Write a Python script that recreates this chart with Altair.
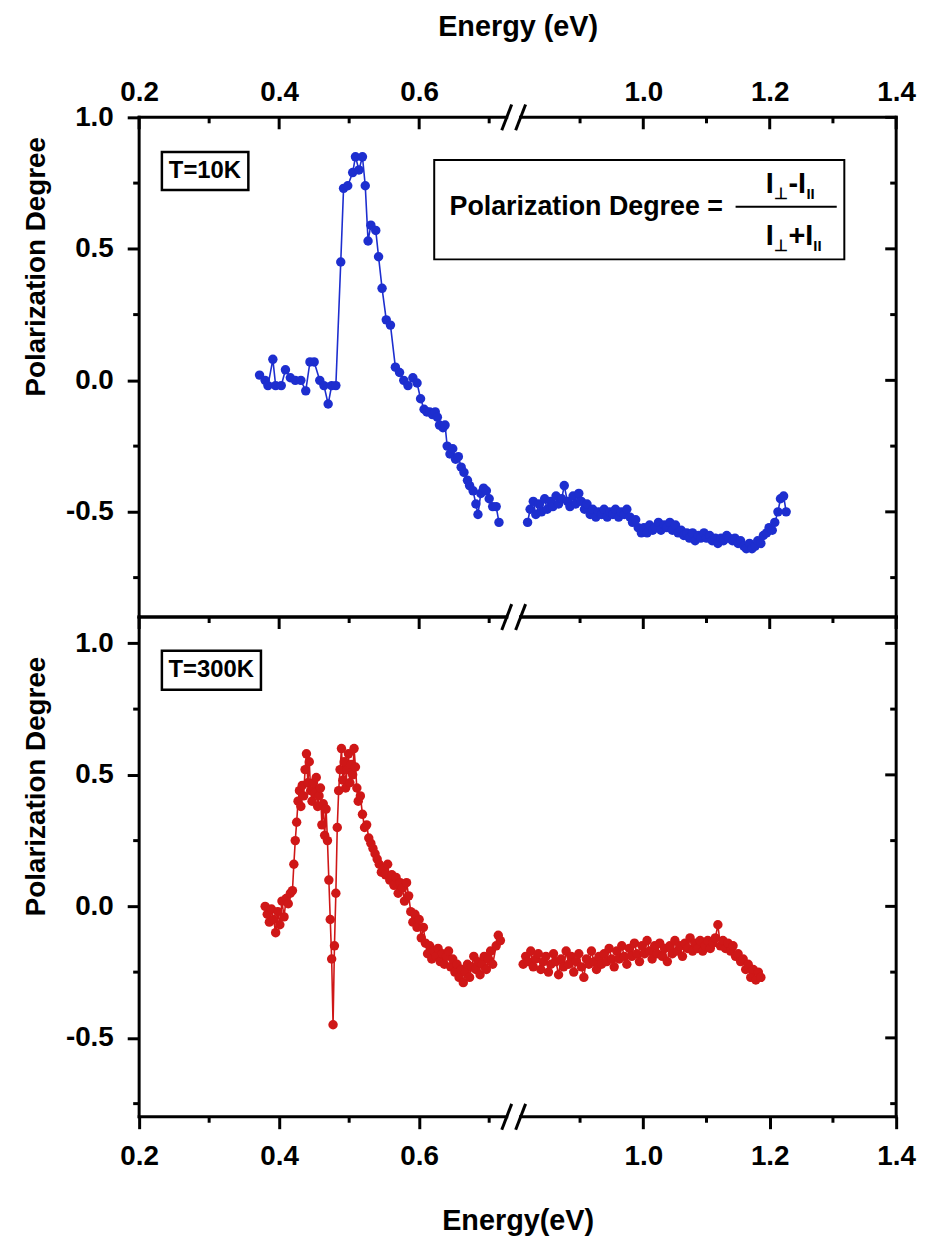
import altair as alt
import pandas as pd

FONT = "Liberation Sans"
BLUE = "#1d2ecf"
RED = "#cf1717"

# ---------------- data ----------------
T10_LEFT_E = [0.372, 0.380, 0.384, 0.391, 0.395, 0.403, 0.409, 0.416, 0.423, 0.431,
              0.438, 0.444, 0.450, 0.458, 0.464, 0.470, 0.475, 0.481, 0.488, 0.492,
              0.498, 0.505, 0.509, 0.514, 0.519, 0.523, 0.527, 0.531, 0.538, 0.542,
              0.547, 0.553, 0.559, 0.566, 0.572, 0.578, 0.584, 0.591, 0.597, 0.602,
              0.607, 0.611, 0.615, 0.619, 0.623, 0.626, 0.629, 0.634, 0.637, 0.640,
              0.644, 0.648, 0.652, 0.656, 0.660, 0.664, 0.669, 0.672, 0.677, 0.681,
              0.684, 0.688, 0.692, 0.696, 0.700, 0.705, 0.710, 0.714]
T10_LEFT_P = [0.02, 0.00, -0.02, 0.08, -0.02, -0.02, 0.04, 0.01, 0.00, 0.00,
              -0.04, 0.07, 0.07, 0.00, -0.02, -0.09, -0.02, -0.02, 0.45, 0.73,
              0.74, 0.79, 0.85, 0.80, 0.85, 0.74, 0.53, 0.59, 0.57, 0.47,
              0.35, 0.23, 0.21, 0.05, 0.03, 0.00, -0.02, 0.01, -0.01, -0.07,
              -0.11, -0.12, -0.12, -0.13, -0.12, -0.14, -0.17, -0.18, -0.17, -0.25,
              -0.28, -0.26, -0.30, -0.29, -0.33, -0.35, -0.38, -0.40, -0.42, -0.47,
              -0.51, -0.43, -0.41, -0.42, -0.45, -0.48, -0.48, -0.54]
T10_RIGHT_E = [0.817, 0.821, 0.826, 0.830, 0.835, 0.839, 0.844, 0.848, 0.853, 0.857,
               0.862, 0.866, 0.871, 0.875, 0.880, 0.884, 0.889, 0.893, 0.898, 0.902,
               0.907, 0.911, 0.916, 0.920, 0.925, 0.929, 0.934, 0.938, 0.943, 0.947,
               0.952, 0.956, 0.961, 0.965, 0.970, 0.974, 0.979, 0.983, 0.988, 0.992,
               0.997, 1.001, 1.006, 1.010, 1.015, 1.019, 1.024, 1.028, 1.033, 1.037,
               1.042, 1.046, 1.051, 1.055, 1.060, 1.064, 1.069, 1.073, 1.078, 1.082,
               1.087, 1.091, 1.096, 1.100, 1.105, 1.109, 1.114, 1.118, 1.123, 1.127,
               1.132, 1.136, 1.141, 1.145, 1.150, 1.154, 1.159, 1.163, 1.168, 1.172,
               1.177, 1.181, 1.186, 1.190, 1.195, 1.199, 1.204, 1.208, 1.213, 1.217,
               1.222, 1.226]
T10_RIGHT_P = [-0.54, -0.49, -0.46, -0.51, -0.47, -0.50, -0.45, -0.49, -0.46, -0.48,
               -0.44, -0.47, -0.45, -0.40, -0.46, -0.48, -0.44, -0.47, -0.43, -0.46,
               -0.49, -0.47, -0.51, -0.49, -0.52, -0.50, -0.51, -0.49, -0.52, -0.50,
               -0.51, -0.49, -0.52, -0.50, -0.51, -0.49, -0.52, -0.54, -0.53, -0.56,
               -0.58, -0.56, -0.58, -0.55, -0.57, -0.56, -0.54, -0.57, -0.55, -0.56,
               -0.54, -0.57, -0.55, -0.58, -0.57, -0.59, -0.58, -0.60, -0.58, -0.61,
               -0.59, -0.60, -0.58, -0.60, -0.59, -0.61, -0.60, -0.62, -0.60, -0.61,
               -0.59, -0.60, -0.61, -0.60, -0.62, -0.61, -0.63, -0.64, -0.62, -0.64,
               -0.63, -0.61, -0.62, -0.59, -0.58, -0.56, -0.57, -0.54, -0.50, -0.45,
               -0.44, -0.50]

T300_LEFT_E = [0.380, 0.383, 0.386, 0.389, 0.392, 0.395, 0.398, 0.401, 0.404, 0.407,
               0.410, 0.413, 0.416, 0.419, 0.421, 0.423, 0.425, 0.427, 0.429, 0.431,
               0.433, 0.435, 0.437, 0.439, 0.441, 0.443, 0.445, 0.447, 0.449, 0.451,
               0.453, 0.455, 0.457, 0.459, 0.461, 0.463, 0.465, 0.467, 0.469, 0.471,
               0.473, 0.475, 0.477, 0.479, 0.481, 0.483, 0.485, 0.487, 0.489, 0.491,
               0.493, 0.495, 0.497, 0.499, 0.501, 0.503, 0.505, 0.507, 0.509, 0.511,
               0.513, 0.516, 0.519, 0.522, 0.525, 0.528, 0.531, 0.534, 0.537, 0.540,
               0.543, 0.546, 0.549, 0.552, 0.555, 0.558, 0.561, 0.564, 0.567, 0.570,
               0.573, 0.576, 0.579, 0.582, 0.585, 0.588, 0.591, 0.594, 0.597, 0.600,
               0.603, 0.606, 0.609, 0.612, 0.615, 0.618, 0.621, 0.624, 0.627, 0.630,
               0.633, 0.636, 0.639, 0.642, 0.645, 0.648, 0.651, 0.654, 0.657, 0.660,
               0.663, 0.666, 0.669, 0.672, 0.675, 0.678, 0.681, 0.684, 0.687, 0.690,
               0.693, 0.696, 0.699, 0.702, 0.705, 0.710, 0.713, 0.716]
T300_LEFT_P = [0.00, -0.03, -0.06, -0.01, -0.05, -0.10, -0.02, -0.07, 0.02, -0.04,
               0.03, 0.01, 0.05, 0.06, 0.16, 0.25, 0.32, 0.40, 0.44, 0.38,
               0.46, 0.42, 0.52, 0.58, 0.47, 0.55, 0.44, 0.40, 0.47, 0.43,
               0.49, 0.38, 0.42, 0.45, 0.31, 0.39, 0.27, 0.37, 0.25, 0.10,
               -0.05, -0.20, -0.45, -0.15, 0.05, 0.30, 0.44, 0.52, 0.60, 0.48,
               0.55, 0.45, 0.52, 0.58, 0.47, 0.54, 0.50, 0.60, 0.53, 0.45,
               0.40, 0.42, 0.35, 0.30, 0.31, 0.26, 0.24, 0.22, 0.20, 0.18,
               0.16, 0.13, 0.14, 0.12, 0.16, 0.10, 0.12, 0.08, 0.11, 0.05,
               0.09, 0.07, 0.02, 0.09, 0.04, -0.02, -0.06, -0.03, -0.08, -0.05,
               -0.12, -0.08, -0.14, -0.18, -0.15, -0.20, -0.17, -0.19, -0.16, -0.21,
               -0.18, -0.22, -0.19, -0.17, -0.23, -0.20, -0.25, -0.22, -0.27, -0.24,
               -0.29, -0.25, -0.22, -0.27, -0.23, -0.19, -0.24, -0.21, -0.26, -0.22,
               -0.19, -0.24, -0.20, -0.17, -0.22, -0.15, -0.11, -0.13]
T300_RIGHT_E = [0.810, 0.814, 0.818, 0.822, 0.826, 0.830, 0.834, 0.838, 0.842, 0.846,
                0.850, 0.854, 0.858, 0.862, 0.866, 0.870, 0.874, 0.878, 0.882, 0.886,
                0.890, 0.894, 0.898, 0.902, 0.906, 0.910, 0.914, 0.918, 0.922, 0.926,
                0.930, 0.934, 0.938, 0.942, 0.946, 0.950, 0.954, 0.958, 0.962, 0.966,
                0.970, 0.974, 0.978, 0.982, 0.986, 0.990, 0.994, 0.998, 1.002, 1.006,
                1.010, 1.014, 1.018, 1.022, 1.026, 1.030, 1.034, 1.038, 1.042, 1.046,
                1.050, 1.054, 1.058, 1.062, 1.066, 1.070, 1.074, 1.078, 1.082, 1.086,
                1.090, 1.094, 1.098, 1.102, 1.106, 1.110, 1.114, 1.118, 1.122, 1.126,
                1.130, 1.134, 1.138, 1.142, 1.146, 1.150, 1.154, 1.158, 1.162, 1.166,
                1.170, 1.174, 1.178, 1.182, 1.186]
T300_RIGHT_P = [-0.22, -0.19, -0.21, -0.17, -0.23, -0.20, -0.18, -0.24, -0.21, -0.19,
                -0.25, -0.22, -0.18, -0.21, -0.26, -0.20, -0.23, -0.17, -0.22, -0.19,
                -0.25, -0.21, -0.18, -0.23, -0.27, -0.20, -0.22, -0.17, -0.21, -0.24,
                -0.19, -0.22, -0.18, -0.21, -0.16, -0.20, -0.23, -0.17, -0.20, -0.15,
                -0.19, -0.22, -0.16, -0.19, -0.14, -0.18, -0.21, -0.15, -0.18, -0.13,
                -0.17, -0.20, -0.15, -0.18, -0.14, -0.19, -0.16, -0.21, -0.15, -0.18,
                -0.13, -0.17, -0.15, -0.19, -0.14, -0.16, -0.12, -0.17, -0.14, -0.16,
                -0.13, -0.17, -0.15, -0.13, -0.16, -0.14, -0.12, -0.07, -0.15, -0.13,
                -0.16, -0.14, -0.17, -0.15, -0.19, -0.18, -0.21, -0.20, -0.24, -0.22,
                -0.27, -0.24, -0.28, -0.25, -0.27]

# ---------------- axes / ticks ----------------
X_MAJOR = [0.2, 0.4, 0.6, 1.0, 1.2, 1.4]
X_MINOR = [0.3, 0.5, 0.7, 0.9, 1.1, 1.3]
Y_MAJOR = [-0.5, 0.0, 0.5, 1.0]
Y_MINOR = [-0.75, -0.25, 0.25, 0.75]
X_LO, X_HI = 0.2, 1.4
BREAK_LO, BREAK_HI = 0.735, 0.795
TOP_YDOM = [-0.9, 1.0]
BOT_YDOM = [-0.8, 1.1]

# annotation anchors (data units)
TOP_LABEL_BOX = [0.2325, 0.356, 0.724, 0.868]
TOP_LABEL_POS = [0.294, 0.796]
BOT_LABEL_BOX = [0.2325, 0.374, 0.824, 0.972]
BOT_LABEL_POS = [0.303, 0.898]
FORMULA_BOX = [0.6215, 1.318, 0.46, 0.838]
FORMULA_TEXT_POS = [1.126, 0.66]
FRAC_BAR = [1.146, 1.306, 0.66]
NUM_POS = [1.236, 0.745]
DEN_POS = [1.236, 0.547]

W, H = 762, 503
BREAK_PX = 377
ONE = pd.DataFrame({"k": [0]})
YLAB = "datum.value < 0 ? '-' + format(-datum.value, '.1f') : format(datum.value, '.1f')"


def series_df(le, lp, re, rp):
    return pd.DataFrame({
        "E": list(le) + list(re),
        "P": list(lp) + list(rp),
        "seg": ["left"] * len(le) + ["right"] * len(re),
    })


def xd(v):
    return alt.XDatum(v, axis=None)


def yd(v):
    return alt.YDatum(v, axis=None)


def panel(df, color, ydom, top_labels, break_ys, label_text, label_box, label_pos, formula,
          title_y):
    ymin, ymax = ydom
    xs = alt.Scale(domain=[X_LO, BREAK_LO, BREAK_HI, X_HI], range=[0, BREAK_PX, BREAK_PX, W],
                   nice=False, zero=False)
    ys = alt.Scale(domain=ydom, nice=False, zero=False)
    if top_labels:
        xaxis = alt.Axis(orient="top", values=X_MAJOR, format=".1f", title="Energy (eV)",
                         ticks=False, domain=False, grid=False, labelFlush=False,
                         labelPadding=11, titlePadding=37)
    else:
        xaxis = alt.Axis(orient="bottom", values=X_MAJOR, format=".1f", title="Energy(eV)",
                         ticks=True, tickSize=12, tickWidth=3, domain=False, grid=False,
                         labelFlush=False, labelPadding=14, titlePadding=36)
    yaxis = alt.Axis(orient="left", values=Y_MAJOR, labelExpr=YLAB, title="Polarization Degree",
                     ticks=True, tickSize=12, tickWidth=3, domain=False, grid=False,
                     labelFlush=False, labelPadding=14, titlePadding=15, titleY=title_y,
                     titleFontSize=28)

    layers = []
    layers.append(alt.Chart(df).mark_line(color=color, strokeWidth=1.6).encode(
        x=alt.X("E:Q", scale=xs, axis=xaxis),
        y=alt.Y("P:Q", scale=ys, axis=yaxis),
        detail="seg:N"))
    layers.append(alt.Chart(df).mark_circle(color=color, size=90, opacity=1).encode(
        x=alt.X("E:Q", axis=None), y=alt.Y("P:Q", axis=None)))

    def xticks(vals, yv, length):
        return alt.Chart(pd.DataFrame({"t": vals})).mark_rule(
            color="black", strokeWidth=3, y2Offset=length).encode(
            x=alt.X("t:Q", axis=None), y=yd(yv), y2=alt.Y2Datum(yv))

    def yticks(vals, xv, length):
        return alt.Chart(pd.DataFrame({"t": vals})).mark_rule(
            color="black", strokeWidth=3, x2Offset=length).encode(
            y=alt.Y("t:Q", axis=None), x=xd(xv), x2=alt.X2Datum(xv))

    # inward ticks on top border, outward minor on bottom / left, inward on right
    layers.append(xticks(X_MAJOR, ymax, 12))
    layers.append(xticks(X_MINOR, ymax, 6))
    if not top_labels:
        layers.append(xticks(X_MINOR, ymin, 6))
    layers.append(yticks(Y_MINOR, X_LO, -6))
    layers.append(yticks(Y_MAJOR, X_HI, -11))
    layers.append(yticks(Y_MINOR, X_HI, -6))

    # frame with a gap at the axis break
    def frame_h(yv):
        a = alt.Chart(ONE).mark_rule(color="black", strokeWidth=3, strokeCap="square",
                                     x2Offset=-7).encode(
            x=xd(X_LO), x2=alt.X2Datum(BREAK_LO), y=yd(yv))
        b = alt.Chart(ONE).mark_rule(color="black", strokeWidth=3, strokeCap="square",
                                     xOffset=7).encode(
            x=xd(BREAK_HI), x2=alt.X2Datum(X_HI), y=yd(yv))
        return [a, b]

    def frame_v(xv):
        return alt.Chart(ONE).mark_rule(color="black", strokeWidth=3, strokeCap="square").encode(
            x=xd(xv), y=yd(ymin), y2=alt.Y2Datum(ymax))

    layers += frame_h(ymax) + frame_h(ymin)
    layers += [frame_v(X_LO), frame_v(X_HI)]

    for yv in break_ys:
        for o1, o2 in [(-12, -2), (2, 12)]:
            layers.append(alt.Chart(ONE).mark_rule(
                color="black", strokeWidth=3, xOffset=o1, x2Offset=o2,
                yOffset=13, y2Offset=-13).encode(
                x=xd(BREAK_LO), x2=alt.X2Datum(BREAK_LO), y=yd(yv), y2=alt.Y2Datum(yv)))

    # temperature label box
    layers.append(alt.Chart(ONE).mark_rect(fill="white", stroke="black", strokeWidth=2.5).encode(
        x=xd(label_box[0]), x2=alt.X2Datum(label_box[1]),
        y=yd(label_box[2]), y2=alt.Y2Datum(label_box[3])))
    layers.append(alt.Chart(ONE).mark_text(
        text=label_text, font=FONT, fontSize=24, fontWeight="bold", color="black").encode(
        x=xd(label_pos[0]), y=yd(label_pos[1])))

    if formula:
        layers.append(alt.Chart(ONE).mark_rect(fill="white", stroke="black", strokeWidth=2).encode(
            x=xd(FORMULA_BOX[0]), x2=alt.X2Datum(FORMULA_BOX[1]),
            y=yd(FORMULA_BOX[2]), y2=alt.Y2Datum(FORMULA_BOX[3])))
        layers.append(alt.Chart(ONE).mark_text(
            text="Polarization Degree =", font=FONT, fontSize=27, fontWeight="bold",
            color="black", align="right").encode(
            x=xd(FORMULA_TEXT_POS[0]), y=yd(FORMULA_TEXT_POS[1])))
        layers.append(alt.Chart(ONE).mark_rule(color="black", strokeWidth=2).encode(
            x=xd(FRAC_BAR[0]), x2=alt.X2Datum(FRAC_BAR[1]), y=yd(FRAC_BAR[2])))
        for pos, op, sub2 in [(NUM_POS, "-I", 13), (DEN_POS, "+I", 20)]:
            pieces = [("I", -27, 0, 29), ("\u22a5", -19, 10, 16), (op, -4, 0, 29),
                      ("II", sub2 + 1, 10, 15)]
            for s, dx, dy, fs in pieces:
                layers.append(alt.Chart(ONE).mark_text(
                    text=s, font=FONT, fontSize=fs, fontWeight="bold", color="black",
                    align="left", dx=dx, dy=dy).encode(x=xd(pos[0]), y=yd(pos[1])))

    return alt.layer(*layers).resolve_axis(x="independent", y="independent").properties(
        width=W, height=H)


top_df = series_df(T10_LEFT_E, T10_LEFT_P, T10_RIGHT_E, T10_RIGHT_P)
bot_df = series_df(T300_LEFT_E, T300_LEFT_P, T300_RIGHT_E, T300_RIGHT_P)

top = panel(top_df, BLUE, TOP_YDOM, True, [TOP_YDOM[1]], "T=10K",
            TOP_LABEL_BOX, TOP_LABEL_POS, True, 150)
bottom = panel(bot_df, RED, BOT_YDOM, False, [BOT_YDOM[1], BOT_YDOM[0]], "T=300K",
               BOT_LABEL_BOX, BOT_LABEL_POS, False, 170)

chart = alt.vconcat(top, bottom, spacing=0, bounds="flush").properties(
    padding={"left": 14, "top": 0, "right": 5, "bottom": 5}
).configure_view(stroke="transparent").configure_axis(
    labelFont=FONT, labelFontSize=28, labelFontWeight="bold", labelColor="black",
    titleFont=FONT, titleFontSize=29, titleFontWeight="bold", titleColor="black",
    tickColor="black")

chart.save("out.html", embed_options={"renderer": "svg", "actions": False})
